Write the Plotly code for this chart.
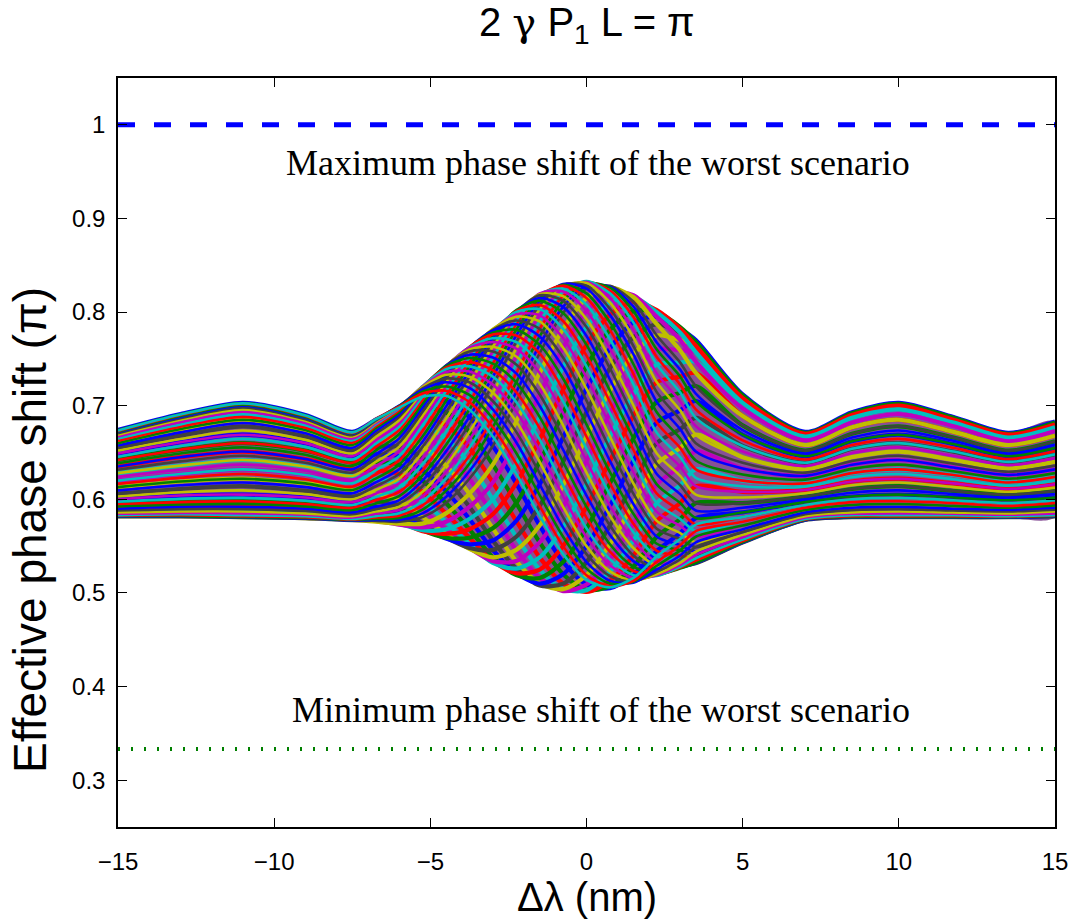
import plotly.graph_objects as go

# ---------------- data ----------------
delta_lambda_nm = [-15, -13, -11, -9, -7.5, -6.75, -6, -5.25, -4.5, -3.75, -3, -2.25,
                   -1.5, -0.75, 0, 0.75, 1.5, 2.25, 3, 3.5, 5, 7, 8.5, 10, 11.75, 13.5, 15]

band_upper = [.674, .691, .703, .690, .672, .686, .700, .721, .743, .763, .782, .802, .820, .830,
              .833, .828, .818, .802, .784, .770, .712, .672, .693, .703, .688, .671, .683]
band_lower = [.581, .581, .580, .579, .577, .576, .573, .566, .558, .547, .532, .519, .508, .502,
              .501, .505, .511, .518, .526, .531, .553, .577, .580, .580, .580, .580, .581]

phase_curve_00 = [.581, .581, .580, .579, .577, .577, .576, .581, .596, .622, .657, .704, .756, .799, .825, .828, .811, .775, .746, .721, .679, .652, .670, .678, .666, .652, .662]
phase_curve_00_5 = [.5815, .5815, .5805, .5795, .5775, .578, .578, .585, .6025, .630, .667, .7145, .765, .8055, .828, .827, .806, .7675, .7385, .713, .674, .649, .666, .6735, .6625, .649, .6585]
phase_curve_01 = [.582, .582, .581, .580, .578, .579, .580, .589, .609, .638, .677, .725, .774, .812, .831, .826, .801, .760, .731, .705, .669, .646, .662, .669, .659, .646, .655]
phase_curve_01_5 = [.5825, .583, .582, .581, .5785, .5805, .5825, .5935, .6155, .6465, .6865, .7345, .782, .817, .832, .823, .795, .752, .7225, .696, .663, .6425, .658, .6645, .655, .643, .6515]
phase_curve_02 = [.583, .584, .583, .582, .579, .582, .585, .598, .622, .655, .696, .744, .790, .822, .833, .820, .789, .744, .714, .687, .657, .639, .654, .660, .651, .640, .648]
phase_curve_02_5 = [.5845, .5855, .585, .5835, .5805, .5845, .5885, .603, .629, .6635, .705, .7525, .7965, .825, .832, .815, .781, .7345, .7045, .678, .651, .6355, .6495, .6555, .6465, .6365, .644]
phase_curve_03 = [.586, .587, .587, .585, .582, .587, .592, .608, .636, .672, .714, .761, .803, .828, .831, .810, .773, .725, .695, .669, .645, .632, .645, .651, .642, .633, .640]
phase_curve_03_5 = [.588, .5895, .5895, .5875, .584, .5895, .5955, .614, .6435, .680, .7225, .768, .8075, .829, .828, .8035, .764, .7145, .685, .660, .639, .6285, .641, .6465, .638, .6295, .636]
phase_curve_04 = [.590, .592, .592, .590, .586, .592, .599, .620, .651, .688, .731, .775, .812, .830, .825, .797, .755, .704, .675, .651, .633, .625, .637, .642, .634, .626, .632]
phase_curve_04_5 = [.5925, .5945, .595, .5925, .5885, .5955, .6035, .6255, .658, .696, .738, .781, .815, .829, .820, .789, .7445, .693, .665, .6415, .6265, .621, .6325, .637, .630, .622, .628]
phase_curve_05 = [.595, .597, .598, .595, .591, .599, .608, .631, .665, .704, .745, .787, .818, .828, .815, .781, .734, .682, .655, .632, .620, .617, .628, .632, .626, .618, .624]
phase_curve_05_5 = [.5975, .6005, .6015, .5985, .594, .6025, .6125, .6375, .672, .7115, .7515, .791, .819, .825, .808, .771, .723, .671, .645, .623, .614, .6135, .6235, .627, .6215, .6145, .620]
phase_curve_06 = [.600, .604, .605, .602, .597, .606, .617, .644, .679, .719, .758, .795, .820, .822, .801, .761, .712, .660, .635, .614, .608, .610, .619, .622, .617, .611, .616]
phase_curve_06_5 = [.603, .6075, .6095, .6055, .600, .610, .622, .650, .686, .725, .763, .7975, .819, .817, .7925, .7505, .7005, .649, .625, .605, .602, .6065, .615, .618, .613, .608, .6125]
phase_curve_07 = [.606, .611, .614, .609, .603, .614, .627, .656, .693, .731, .768, .800, .818, .812, .784, .740, .689, .638, .615, .596, .596, .603, .611, .614, .609, .605, .609]
phase_curve_07_5 = [.6095, .615, .618, .613, .6065, .618, .632, .6615, .699, .7365, .772, .801, .815, .8055, .7745, .728, .677, .627, .6055, .588, .591, .600, .607, .6095, .6055, .602, .6055]
phase_curve_08 = [.613, .619, .622, .617, .610, .622, .637, .667, .705, .742, .776, .802, .812, .799, .765, .716, .665, .616, .596, .580, .586, .597, .603, .605, .602, .599, .602]
phase_curve_08_5 = [.6165, .623, .627, .6215, .6135, .6265, .6415, .673, .7105, .7465, .778, .801, .8075, .7905, .7535, .704, .653, .606, .5875, .573, .581, .594, .600, .6015, .599, .596, .599]
phase_curve_09 = [.620, .627, .632, .626, .617, .631, .646, .679, .716, .751, .780, .800, .803, .782, .742, .692, .641, .596, .579, .566, .576, .591, .597, .598, .596, .593, .596]
phase_curve_09_5 = [.624, .6315, .637, .6305, .621, .6355, .651, .684, .7205, .7545, .781, .7975, .7965, .772, .730, .6795, .629, .5865, .5715, .560, .572, .5885, .594, .595, .593, .591, .5935]
phase_curve_10 = [.628, .636, .642, .635, .625, .640, .656, .689, .725, .758, .782, .795, .790, .762, .718, .667, .617, .577, .564, .554, .568, .586, .591, .592, .590, .589, .591]
phase_curve_10_5 = [.6315, .6405, .6465, .639, .6285, .644, .6605, .6935, .729, .760, .781, .791, .782, .7515, .7055, .654, .606, .5685, .5575, .549, .565, .584, .5885, .5895, .588, .587, .589]
phase_curve_11 = [.635, .645, .651, .643, .632, .648, .665, .698, .733, .762, .780, .787, .774, .741, .693, .641, .595, .560, .551, .544, .562, .582, .586, .587, .586, .585, .587]
phase_curve_11_5 = [.6385, .649, .6555, .6475, .6355, .652, .6695, .702, .736, .7625, .778, .781, .765, .729, .680, .629, .5845, .5525, .5455, .5405, .5595, .5805, .5845, .585, .5845, .5835, .585]
phase_curve_12 = [.642, .653, .660, .652, .639, .656, .674, .706, .739, .763, .776, .775, .756, .717, .667, .617, .574, .545, .540, .537, .557, .579, .583, .583, .583, .582, .583]
phase_curve_12_5 = [.6455, .657, .6645, .656, .6425, .6595, .6775, .7095, .7405, .7625, .772, .768, .7455, .7045, .654, .605, .565, .539, .536, .5345, .5555, .5785, .582, .582, .582, .5815, .5825]
phase_curve_13 = [.649, .661, .669, .660, .646, .663, .681, .713, .742, .762, .768, .761, .735, .692, .641, .593, .556, .533, .532, .532, .554, .578, .581, .581, .581, .581, .582]
phase_curve_13_5 = [.652, .6645, .6735, .6635, .649, .6665, .6845, .715, .7425, .760, .763, .7525, .7235, .679, .6285, .5825, .548, .529, .530, .5315, .5535, .5775, .5805, .5805, .5805, .5805, .5815]
phase_curve_14 = [.655, .668, .678, .667, .652, .670, .688, .717, .743, .758, .758, .744, .712, .666, .616, .572, .540, .525, .528, .531, .553, .577, .580, .580, .580, .580, .581]
phase_curve_14_5 = [.6575, .6715, .6815, .6705, .655, .673, .6905, .7185, .7425, .7545, .7515, .7345, .700, .653, .604, .562, .534, .5225, .527, .5315, .5535, .5775, .5805, .5805, .5805, .5805, .5815]
phase_curve_15 = [.660, .675, .685, .674, .658, .676, .693, .720, .742, .751, .745, .725, .688, .640, .592, .552, .528, .520, .526, .532, .554, .578, .581, .581, .581, .581, .582]
phase_curve_15_5 = [.6625, .6775, .688, .6765, .6605, .678, .695, .7205, .7405, .7465, .738, .7145, .676, .6275, .5805, .544, .5235, .519, .527, .5345, .5555, .5785, .582, .582, .582, .5815, .5825]
phase_curve_16 = [.665, .680, .691, .679, .663, .680, .697, .721, .739, .742, .731, .704, .664, .615, .569, .536, .519, .518, .528, .537, .557, .579, .583, .583, .583, .582, .583]
phase_curve_16_5 = [.667, .6825, .6935, .6815, .665, .6815, .698, .7205, .736, .7365, .7225, .6935, .652, .6035, .5595, .5295, .516, .519, .530, .5405, .5595, .5805, .5845, .585, .5845, .5835, .585]
phase_curve_17 = [.669, .685, .696, .684, .667, .683, .699, .720, .733, .731, .714, .683, .640, .592, .550, .523, .513, .520, .532, .544, .562, .582, .586, .587, .586, .585, .587]
phase_curve_17_5 = [.6705, .6865, .698, .6855, .6685, .684, .6995, .7185, .729, .725, .705, .672, .628, .581, .5415, .518, .512, .5225, .536, .549, .565, .584, .5885, .5895, .588, .587, .589]
phase_curve_18 = [.672, .688, .700, .687, .670, .685, .700, .717, .725, .719, .696, .661, .616, .570, .533, .513, .511, .525, .540, .554, .568, .586, .591, .592, .590, .589, .591]
phase_curve_18_5 = [.6725, .689, .701, .688, .6705, .6855, .6995, .715, .7205, .7115, .6865, .6495, .6045, .560, .526, .510, .512, .529, .5455, .560, .572, .5885, .594, .595, .593, .591, .5935]
phase_curve_19 = [.673, .690, .702, .689, .671, .686, .699, .713, .716, .704, .677, .638, .593, .550, .519, .507, .513, .533, .551, .566, .576, .591, .597, .598, .596, .593, .596]
phase_curve_19_5 = [.6735, .6905, .7025, .6895, .6715, .6855, .698, .7095, .7105, .696, .667, .6275, .5825, .5415, .514, .506, .516, .539, .5575, .573, .581, .594, .600, .6015, .599, .596, .599]
phase_curve_20 = [.674, .691, .703, .690, .672, .685, .697, .706, .705, .688, .657, .617, .572, .533, .509, .505, .519, .545, .564, .580, .586, .597, .603, .605, .602, .599, .602]
phase_curve_21 = [.673, .690, .702, .689, .671, .683, .693, .698, .693, .672, .637, .596, .554, .520, .503, .507, .528, .560, .579, .596, .596, .603, .611, .614, .609, .605, .609]
phase_curve_22 = [.672, .688, .700, .687, .670, .680, .688, .689, .679, .655, .618, .577, .538, .510, .501, .513, .540, .577, .596, .614, .608, .610, .619, .622, .617, .611, .616]
phase_curve_23 = [.669, .685, .696, .684, .667, .676, .681, .679, .665, .638, .600, .560, .525, .504, .503, .523, .556, .596, .615, .632, .620, .617, .628, .632, .626, .618, .624]
phase_curve_24 = [.665, .680, .691, .679, .663, .670, .674, .667, .651, .622, .584, .546, .516, .502, .509, .536, .574, .616, .635, .651, .633, .625, .637, .642, .634, .626, .632]
phase_curve_25 = [.660, .675, .685, .674, .658, .663, .665, .656, .636, .606, .569, .534, .510, .504, .519, .552, .595, .638, .655, .669, .645, .632, .645, .651, .642, .633, .640]
phase_curve_26 = [.655, .668, .678, .667, .652, .656, .656, .644, .622, .592, .556, .526, .508, .510, .533, .572, .617, .660, .675, .687, .657, .639, .654, .660, .651, .640, .648]
phase_curve_27 = [.649, .661, .669, .660, .646, .648, .646, .631, .609, .579, .546, .521, .510, .520, .550, .593, .641, .682, .695, .705, .669, .646, .662, .669, .659, .646, .655]
phase_curve_28 = [.642, .653, .660, .652, .639, .640, .637, .620, .596, .568, .538, .519, .516, .533, .569, .617, .665, .704, .714, .721, .679, .652, .670, .678, .666, .652, .662]
phase_curve_29 = [.635, .645, .651, .643, .632, .631, .627, .608, .585, .559, .534, .521, .525, .550, .592, .641, .689, .725, .731, .735, .689, .658, .677, .685, .672, .658, .668]
phase_curve_30 = [.628, .636, .642, .635, .625, .622, .617, .598, .576, .552, .532, .526, .538, .570, .616, .667, .712, .744, .746, .747, .697, .663, .682, .691, .678, .662, .673]
phase_curve_31 = [.620, .627, .632, .626, .617, .614, .608, .589, .568, .548, .534, .534, .554, .592, .641, .692, .734, .760, .759, .757, .703, .667, .687, .696, .682, .666, .677]
phase_curve_32 = [.613, .619, .622, .617, .610, .606, .599, .581, .563, .547, .538, .546, .572, .615, .667, .716, .755, .775, .770, .764, .708, .670, .690, .700, .685, .669, .680]
phase_curve_33 = [.606, .611, .614, .609, .603, .599, .592, .574, .559, .548, .546, .560, .593, .640, .693, .740, .773, .787, .778, .768, .711, .671, .692, .702, .687, .670, .682]
phase_curve_34 = [.600, .604, .605, .602, .597, .592, .585, .570, .558, .552, .556, .577, .616, .666, .718, .761, .789, .795, .782, .770, .712, .672, .693, .703, .688, .671, .683]
phase_curve_35 = [.595, .597, .598, .595, .591, .587, .580, .567, .559, .559, .569, .596, .640, .692, .742, .781, .801, .800, .784, .768, .711, .671, .692, .702, .687, .670, .682]
phase_curve_36 = [.590, .592, .592, .590, .586, .582, .576, .566, .563, .568, .584, .617, .664, .717, .765, .797, .811, .802, .782, .764, .708, .670, .690, .700, .685, .669, .680]
phase_curve_37 = [.586, .587, .587, .585, .582, .579, .574, .567, .568, .579, .600, .638, .688, .741, .784, .810, .816, .800, .778, .757, .703, .667, .687, .696, .682, .666, .677]
phase_curve_38 = [.583, .584, .583, .582, .579, .577, .573, .570, .576, .592, .618, .661, .712, .762, .801, .820, .818, .795, .770, .747, .697, .663, .682, .691, .678, .662, .673]
phase_curve_39 = [.582, .582, .581, .580, .578, .576, .574, .574, .585, .606, .637, .683, .735, .782, .815, .826, .816, .787, .759, .735, .689, .658, .677, .685, .672, .658, .668]

worst_max_level = 1.0
worst_min_level = 0.3333

x_ticks = [-15, -10, -5, 0, 5, 10, 15]
y_ticks = [0.3, 0.4, 0.5, 0.6, 0.7, 0.8, 0.9, 1.0]
y_tick_text = ["0.3", "0.4", "0.5", "0.6", "0.7", "0.8", "0.9", "1"]

# drawing order: rising family first (underneath), falling family on top
under_family = [phase_curve_20, phase_curve_21, phase_curve_22, phase_curve_23, phase_curve_24,
                phase_curve_25, phase_curve_26, phase_curve_27, phase_curve_28, phase_curve_29,
                phase_curve_30, phase_curve_31, phase_curve_32, phase_curve_33, phase_curve_34,
                phase_curve_35, phase_curve_36, phase_curve_37, phase_curve_38, phase_curve_39]
top_family = [phase_curve_00, phase_curve_00_5, phase_curve_01, phase_curve_01_5,
              phase_curve_02, phase_curve_02_5, phase_curve_03, phase_curve_03_5,
              phase_curve_04, phase_curve_04_5, phase_curve_05, phase_curve_05_5,
              phase_curve_06, phase_curve_06_5, phase_curve_07, phase_curve_07_5,
              phase_curve_08, phase_curve_08_5, phase_curve_09, phase_curve_09_5,
              phase_curve_10, phase_curve_10_5, phase_curve_11, phase_curve_11_5,
              phase_curve_12, phase_curve_12_5, phase_curve_13, phase_curve_13_5,
              phase_curve_14, phase_curve_14_5, phase_curve_15, phase_curve_15_5,
              phase_curve_16, phase_curve_16_5, phase_curve_17, phase_curve_17_5,
              phase_curve_18, phase_curve_18_5, phase_curve_19, phase_curve_19_5]

matlab_colors = ["rgb(0,0,255)", "rgb(0,128,0)", "rgb(255,0,0)", "rgb(0,191,191)",
                 "rgb(191,0,191)", "rgb(191,191,0)", "rgb(64,64,64)"]

fig = go.Figure()

# band background (envelope)
fig.add_trace(go.Scatter(
    x=delta_lambda_nm + delta_lambda_nm[::-1],
    y=band_upper + band_lower[::-1],
    fill="toself", fillcolor="rgb(135,80,150)",
    line=dict(width=0, shape="spline", smoothing=0.8),
    mode="lines", hoverinfo="skip", showlegend=False))

n_under = len(under_family)
for i, ys in enumerate(under_family + top_family):
    fig.add_trace(go.Scatter(
        x=delta_lambda_nm, y=ys, mode="lines",
        line=dict(color=matlab_colors[i % 7], width=4.2 if i < n_under else 2.6,
                  shape="spline", smoothing=0.8),
        hoverinfo="skip", showlegend=False))

fig.add_trace(go.Scatter(
    x=[-15, 15], y=[worst_max_level, worst_max_level], mode="lines",
    line=dict(color="rgb(0,0,255)", width=5, dash="17px,19px"),
    hoverinfo="skip", showlegend=False))
fig.add_trace(go.Scatter(
    x=[-15, 15], y=[worst_min_level, worst_min_level], mode="lines",
    line=dict(color="rgb(0,128,0)", width=4, dash="2px,11px"),
    hoverinfo="skip", showlegend=False))

sans = "Liberation Sans, Arial, Helvetica, sans-serif"
serif = "Liberation Serif, Times New Roman, serif"

axis_common = dict(
    showline=True, linecolor="black", linewidth=1.5, mirror="ticks",
    ticks="inside", ticklen=9, tickwidth=1, tickcolor="black",
    showgrid=False, zeroline=False,
    tickfont=dict(family=sans, size=24, color="black"),
)

fig.update_layout(
    width=1079, height=920,
    margin=dict(l=118, r=24, t=78, b=93),
    paper_bgcolor="white", plot_bgcolor="white",
    showlegend=False,
    xaxis=dict(range=[-15, 15], tickvals=x_ticks, ticklabelstandoff=12, **axis_common),
    yaxis=dict(range=[0.25, 1.05], tickvals=y_ticks, ticktext=y_tick_text,
               ticklabelstandoff=6, **axis_common),
    annotations=[
        dict(text="2 <span style='font-family:DejaVu Serif'>γ</span> P<sub>1</sub> L = π",
             xref="paper", yref="paper", x=0.5, y=1.0708,
             xanchor="center", yanchor="middle", showarrow=False,
             font=dict(family=sans, size=40, color="black")),
        dict(text="Δλ (nm)", xref="paper", yref="paper", x=0.5, y=-0.0935,
             xanchor="center", yanchor="middle", showarrow=False,
             font=dict(family=sans, size=40, color="black")),
        dict(text="Effective phase shift (π)", xref="paper", yref="paper", x=-0.094, y=0.3965,
             xanchor="center", yanchor="middle", showarrow=False, textangle=-90,
             font=dict(family=sans, size=46, color="black")),
        dict(text="Maximum phase shift of the worst scenario", xref="x", yref="y",
             x=0.37, y=0.959, xanchor="center", yanchor="middle", showarrow=False,
             font=dict(family=serif, size=36, color="black")),
        dict(text="Minimum phase shift of the worst scenario", xref="x", yref="y",
             x=0.47, y=0.375, xanchor="center", yanchor="middle", showarrow=False,
             font=dict(family=serif, size=36, color="black")),
    ],
)

fig.write_html("out.html")
